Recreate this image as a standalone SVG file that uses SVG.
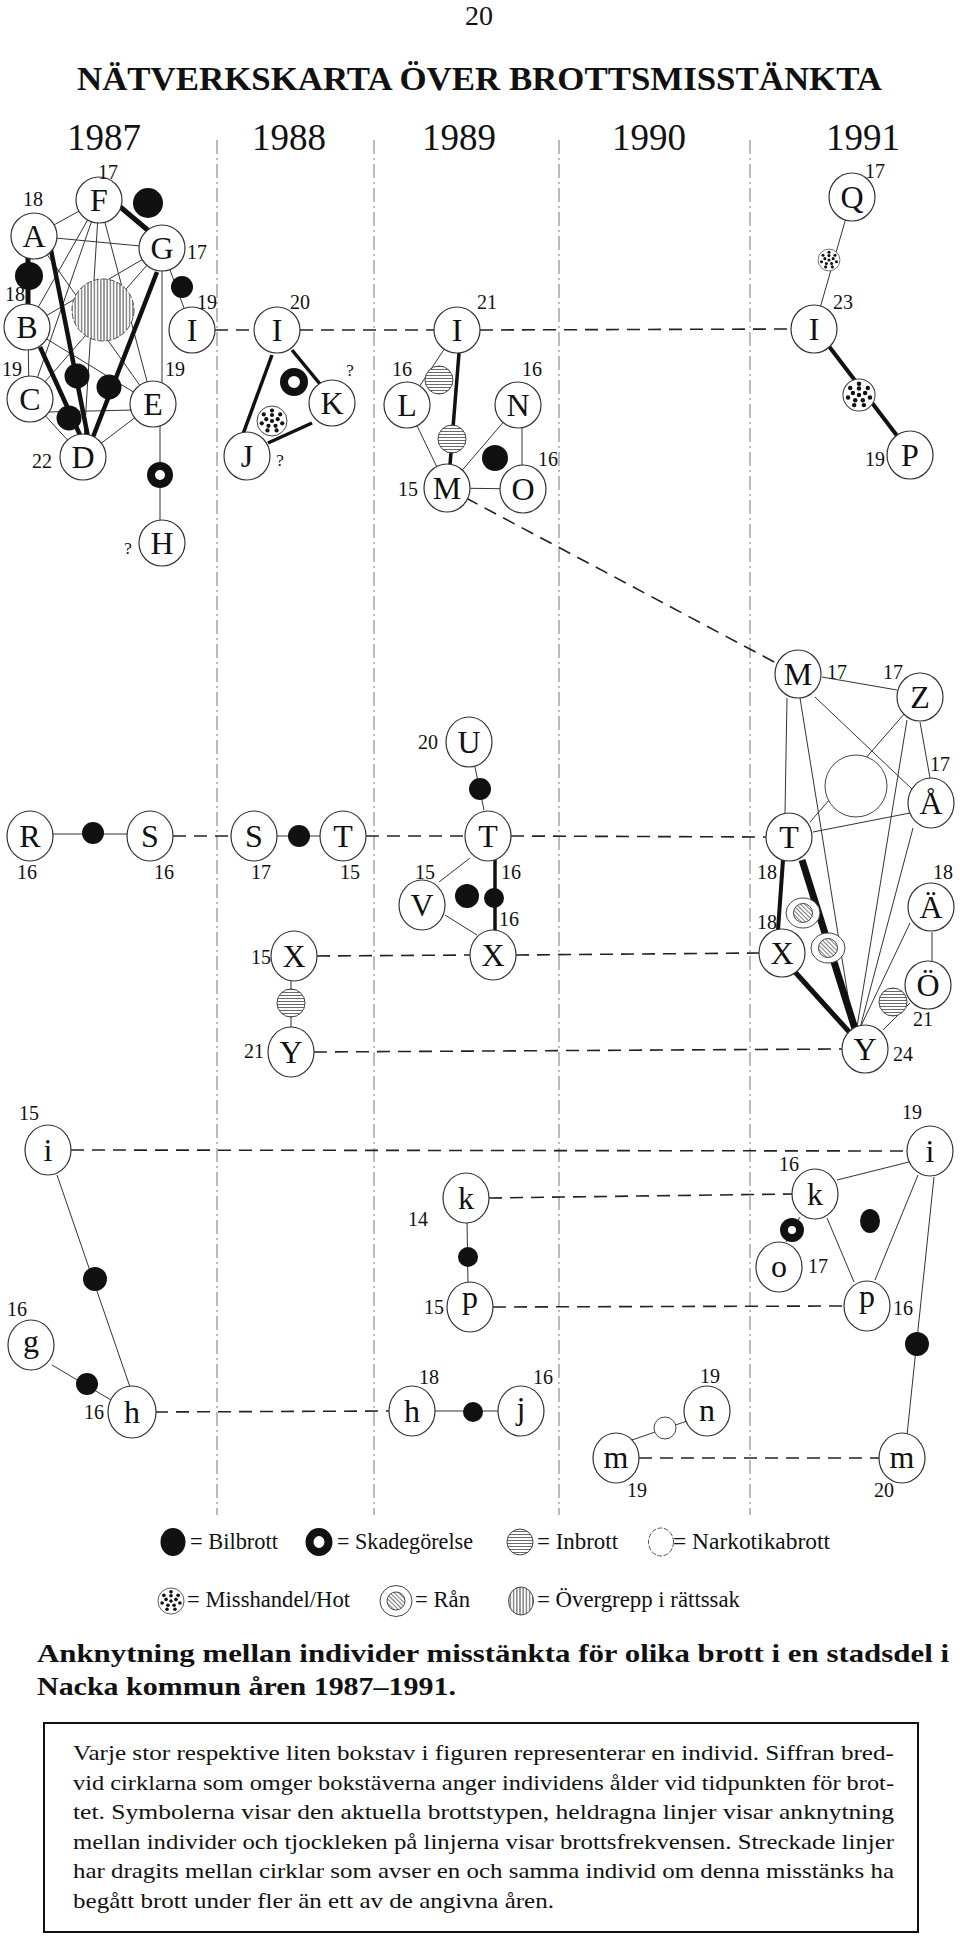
<svg xmlns="http://www.w3.org/2000/svg" xmlns:xlink="http://www.w3.org/1999/xlink" width="960" height="1940" viewBox="0 0 960 1940">
<style>
.t{font-family:"Liberation Serif","Times New Roman",serif;fill:#111}
.node ellipse{fill:#fff;stroke:#333;stroke-width:1.2}
.lbl{font-size:32px;text-anchor:middle}
.age{font-size:20px;text-anchor:middle}
.q{font-size:17px;text-anchor:middle}
.yr{font-size:37px;text-anchor:middle}
.thin{stroke:#333;stroke-width:1;fill:none}
.dash{stroke:#222;stroke-width:1.6;stroke-dasharray:13 8;fill:none}
.div{stroke:#777;stroke-width:1;stroke-dasharray:14 4 2 4;fill:none}
.bil{fill:#111}
.ring{fill:#fff;stroke:#111}
.leg{font-size:23px}
.box{font-size:22px}
</style>
<defs>
<pattern id="ph" width="4" height="3" patternUnits="userSpaceOnUse"><rect width="4" height="3" fill="#fff"/><line x1="0" y1="1.5" x2="4" y2="1.5" stroke="#444" stroke-width="0.8"/></pattern>
<pattern id="pv" width="3.2" height="4" patternUnits="userSpaceOnUse"><rect width="3.2" height="4" fill="#fff"/><line x1="1.6" y1="0" x2="1.6" y2="4" stroke="#333" stroke-width="0.9"/></pattern>
<pattern id="pd" width="3" height="3" patternUnits="userSpaceOnUse" patternTransform="rotate(45)"><rect width="3" height="3" fill="#fff"/><line x1="0" y1="1.5" x2="3" y2="1.5" stroke="#555" stroke-width="0.8"/></pattern>
<g id="miss"><circle r="15" fill="#fff" stroke="#444" stroke-width="1"/><g fill="#111"><circle r="2.1"/><circle cx="0" cy="-6" r="2.1"/><circle cx="5.7" cy="-1.85" r="2.1"/><circle cx="3.53" cy="4.85" r="2.1"/><circle cx="-3.53" cy="4.85" r="2.1"/><circle cx="-5.7" cy="-1.85" r="2.1"/><circle cx="0" cy="-10.5" r="2.1"/><circle cx="8.21" cy="-6.55" r="2.1"/><circle cx="10.24" cy="2.34" r="2.1"/><circle cx="4.56" cy="9.46" r="2.1"/><circle cx="-4.56" cy="9.46" r="2.1"/><circle cx="-10.24" cy="2.34" r="2.1"/><circle cx="-8.21" cy="-6.55" r="2.1"/></g></g>
<g id="ran"><ellipse rx="17" ry="15" fill="#fff" stroke="#444" stroke-width="1"/><circle r="9.5" fill="url(#pd)" stroke="#444" stroke-width="1"/></g>
<g id="inb"><circle r="14" fill="url(#ph)" stroke="#444" stroke-width="1"/></g>
</defs>
<rect width="960" height="1940" fill="#fff"/>

<g id="header" class="t">
<text x="479" y="25" font-size="28" text-anchor="middle">20</text>
<text x="77" y="90" font-size="34" font-weight="bold" textLength="805" lengthAdjust="spacingAndGlyphs">NÄTVERKSKARTA ÖVER BROTTSMISSTÄNKTA</text>
<text class="yr" x="104" y="150">1987</text>
<text class="yr" x="289" y="150">1988</text>
<text class="yr" x="459" y="150">1989</text>
<text class="yr" x="649" y="150">1990</text>
<text class="yr" x="863" y="150">1991</text>
</g>

<g id="dividers">
<line class="div" x1="217" y1="140" x2="217" y2="1515"/>
<line class="div" x1="374" y1="140" x2="374" y2="1515"/>
<line class="div" x1="559" y1="140" x2="559" y2="1515"/>
<line class="div" x1="750" y1="140" x2="750" y2="1515"/>
</g>

<g id="connectors">
<g class="thin">
<line x1="34" y1="236" x2="99" y2="200"/>
<line x1="34" y1="236" x2="162" y2="248"/>
<line x1="99" y1="200" x2="27" y2="327"/>
<line x1="99" y1="200" x2="30" y2="399"/>
<line x1="99" y1="200" x2="83" y2="457"/>
<line x1="99" y1="200" x2="153" y2="404"/>
<line x1="34" y1="236" x2="153" y2="404"/>
<line x1="162" y1="248" x2="27" y2="327"/>
<line x1="162" y1="248" x2="30" y2="399"/>
<line x1="27" y1="327" x2="153" y2="404"/>
<line x1="28" y1="327" x2="29" y2="399"/>
<line x1="30" y1="399" x2="83" y2="457"/>
<line x1="48" y1="412" x2="134" y2="410"/>
<line x1="83" y1="457" x2="153" y2="404"/>
<line x1="162" y1="268" x2="162" y2="386"/>
<line x1="162" y1="248" x2="192" y2="330"/>
<line x1="160" y1="420" x2="160" y2="525"/>
<line x1="457" y1="330" x2="407" y2="405"/>
<line x1="407" y1="405" x2="447" y2="488"/>
<line x1="518" y1="405" x2="447" y2="488"/>
<line x1="522" y1="405" x2="522" y2="489"/>
<line x1="447" y1="488" x2="523" y2="489"/>
<line x1="852" y1="197" x2="814" y2="329"/>
<line x1="822" y1="677" x2="897" y2="690"/>
<line x1="787" y1="698" x2="785" y2="813"/>
<line x1="815" y1="697" x2="913" y2="790"/>
<line x1="800" y1="698" x2="853" y2="1027"/>
<line x1="905" y1="713" x2="810" y2="822"/>
<line x1="907" y1="720" x2="857" y2="1027"/>
<line x1="920" y1="722" x2="930" y2="778"/>
<line x1="813" y1="832" x2="910" y2="813"/>
<line x1="913" y1="828" x2="860" y2="1028"/>
<line x1="910" y1="923" x2="860" y2="1028"/>
<line x1="932" y1="932" x2="932" y2="962"/>
<line x1="910" y1="1003" x2="883" y2="1030"/>
<line x1="30" y1="834" x2="150" y2="834"/>
<line x1="254" y1="836" x2="343" y2="836"/>
<line x1="475" y1="767" x2="484" y2="810"/>
<line x1="470" y1="858" x2="439" y2="882"/>
<line x1="445" y1="915" x2="477" y2="935"/>
<line x1="291" y1="978" x2="291" y2="1030"/>
<line x1="57" y1="1175" x2="130" y2="1387"/>
<line x1="52" y1="1365" x2="111" y2="1400"/>
<line x1="412" y1="1411" x2="521" y2="1411"/>
<line x1="467" y1="1220" x2="468" y2="1285"/>
<line x1="837" y1="1180" x2="909" y2="1162"/>
<line x1="827" y1="1218" x2="854" y2="1282"/>
<line x1="875" y1="1280" x2="918" y2="1175"/>
<line x1="934" y1="1177" x2="907" y2="1435"/>
<line x1="800" y1="1217" x2="786" y2="1242"/>
<line x1="632" y1="1440" x2="690" y2="1420"/>
</g>
<g stroke="#111" fill="none">
<line x1="28" y1="240" x2="28" y2="320" stroke-width="5"/>
<line x1="112" y1="200" x2="150" y2="232" stroke-width="5"/>
<line x1="50" y1="245" x2="88" y2="437" stroke-width="4.5"/>
<line x1="157" y1="272" x2="93" y2="437" stroke-width="4.5"/>
<line x1="40" y1="347" x2="80" y2="435" stroke-width="4.5"/>
<line x1="272" y1="355" x2="243" y2="434" stroke-width="3.5"/>
<line x1="292" y1="350" x2="320" y2="384" stroke-width="3.5"/>
<line x1="268" y1="443" x2="312" y2="423" stroke-width="3.5"/>
<line x1="459" y1="353" x2="450" y2="465" stroke-width="3.5"/>
<line x1="828" y1="345" x2="898" y2="437" stroke-width="4"/>
<line x1="783" y1="860" x2="778" y2="930" stroke-width="4"/>
<line x1="802" y1="860" x2="856" y2="1032" stroke-width="7"/>
<line x1="795" y1="972" x2="852" y2="1035" stroke-width="5"/>
<line x1="495" y1="860" x2="495" y2="932" stroke-width="3.5"/>
</g>
<g class="dash">
<line x1="215" y1="330" x2="254" y2="330"/>
<line x1="300" y1="330" x2="434" y2="330"/>
<line x1="480" y1="330" x2="791" y2="329"/>
<line x1="466" y1="498" x2="778" y2="664"/>
<line x1="173" y1="836" x2="231" y2="836"/>
<line x1="366" y1="836" x2="465" y2="836"/>
<line x1="511" y1="836" x2="766" y2="837"/>
<line x1="317" y1="956" x2="470" y2="955"/>
<line x1="516" y1="955" x2="759" y2="953"/>
<line x1="314" y1="1052" x2="842" y2="1049"/>
<line x1="71" y1="1150" x2="907" y2="1151"/>
<line x1="489" y1="1198" x2="792" y2="1194"/>
<line x1="493" y1="1307" x2="844" y2="1306"/>
<line x1="155" y1="1412" x2="389" y2="1411"/>
<line x1="639" y1="1458" x2="879" y2="1458"/>
</g>
</g>

<g id="symbols">
<circle cx="103" cy="310" r="31" fill="url(#pv)" stroke="#555" stroke-width="1" stroke-dasharray="6 2"/>
<circle class="bil" cx="148" cy="203" r="15"/>
<ellipse class="bil" cx="29" cy="276" rx="14" ry="14"/>
<circle class="bil" cx="182" cy="287" r="11"/>
<circle class="bil" cx="77" cy="376" r="12.5"/>
<circle class="bil" cx="109" cy="387" r="12.5"/>
<circle class="bil" cx="69" cy="418" r="12.5"/>
<circle class="ring" cx="160" cy="475" r="9" stroke-width="8"/>
<circle class="ring" cx="294" cy="382" r="10" stroke-width="8"/>
<use href="#miss" transform="translate(272,421)"/>
<use href="#inb" transform="translate(439,380)"/>
<use href="#inb" transform="translate(452,439)"/>
<circle class="bil" cx="495" cy="458" r="13"/>
<use href="#miss" transform="translate(829,260) scale(0.73)"/>
<use href="#miss" transform="translate(859,395) scale(1.07)"/>
<circle cx="856" cy="786" r="31" fill="#fff" stroke="#444" stroke-width="1"/>
<use href="#ran" transform="translate(803,913)"/>
<use href="#ran" transform="translate(828,948)"/>
<use href="#inb" transform="translate(893,1002)"/>
<circle class="bil" cx="93" cy="833" r="11"/>
<circle class="bil" cx="299" cy="836" r="11"/>
<circle class="bil" cx="480" cy="789" r="11"/>
<circle class="bil" cx="467" cy="896" r="12"/>
<circle class="bil" cx="494" cy="898" r="10"/>
<use href="#inb" transform="translate(291,1003)"/>
<circle class="bil" cx="95" cy="1279" r="12"/>
<circle class="bil" cx="87" cy="1384" r="11"/>
<circle class="bil" cx="473" cy="1412" r="10"/>
<circle class="bil" cx="468" cy="1257" r="10"/>
<ellipse class="bil" cx="870" cy="1221" rx="10" ry="12"/>
<circle class="bil" cx="917" cy="1344" r="12"/>
<circle class="ring" cx="792" cy="1230" r="8" stroke-width="8"/>
<circle cx="665" cy="1428" r="11" fill="#fff" stroke="#444" stroke-width="1"/>
</g>

<g id="nodes" class="t">
<g id="n-A" class="node"><ellipse cx="34" cy="236" rx="23" ry="23"/><text class="lbl" x="34" y="247">A</text><text class="age" x="33" y="206">18</text></g>
<g id="n-F" class="node"><ellipse cx="99" cy="200" rx="23" ry="23"/><text class="lbl" x="99" y="211">F</text><text class="age" x="108" y="179">17</text></g>
<g id="n-G" class="node"><ellipse cx="162" cy="248" rx="23" ry="23"/><text class="lbl" x="162" y="259">G</text><text class="age" x="197" y="259">17</text></g>
<g id="n-B" class="node"><ellipse cx="27" cy="327" rx="23" ry="23"/><text class="lbl" x="27" y="338">B</text><text class="age" x="15" y="301">18</text></g>
<g id="n-I87" class="node"><ellipse cx="192" cy="330" rx="23" ry="23"/><text class="lbl" x="192" y="341">I</text><text class="age" x="207" y="309">19</text></g>
<g id="n-C" class="node"><ellipse cx="30" cy="399" rx="23" ry="23"/><text class="lbl" x="30" y="410">C</text><text class="age" x="12" y="376">19</text></g>
<g id="n-E" class="node"><ellipse cx="153" cy="404" rx="23" ry="23"/><text class="lbl" x="153" y="415">E</text><text class="age" x="175" y="376">19</text></g>
<g id="n-D" class="node"><ellipse cx="83" cy="457" rx="23" ry="23"/><text class="lbl" x="83" y="468">D</text><text class="age" x="42" y="468">22</text></g>
<g id="n-H" class="node"><ellipse cx="162" cy="543" rx="23" ry="23"/><text class="lbl" x="162" y="554">H</text><text class="q" x="128" y="554">?</text></g>

<g id="n-I88" class="node"><ellipse cx="277" cy="330" rx="23" ry="23"/><text class="lbl" x="277" y="341">I</text><text class="age" x="300" y="309">20</text></g>
<g id="n-K" class="node"><ellipse cx="332" cy="403" rx="23" ry="23"/><text class="lbl" x="332" y="414">K</text><text class="q" x="350" y="376">?</text></g>
<g id="n-J" class="node"><ellipse cx="247" cy="456" rx="23" ry="24"/><text class="lbl" x="247" y="467">J</text><text class="q" x="280" y="466">?</text></g>

<g id="n-I89" class="node"><ellipse cx="457" cy="330" rx="23" ry="23"/><text class="lbl" x="457" y="341">I</text><text class="age" x="487" y="309">21</text></g>
<g id="n-L" class="node"><ellipse cx="407" cy="405" rx="23" ry="23"/><text class="lbl" x="407" y="416">L</text><text class="age" x="402" y="376">16</text></g>
<g id="n-N" class="node"><ellipse cx="518" cy="405" rx="23" ry="23"/><text class="lbl" x="518" y="416">N</text><text class="age" x="532" y="376">16</text></g>
<g id="n-M89" class="node"><ellipse cx="447" cy="488" rx="23" ry="24"/><text class="lbl" x="447" y="499">M</text><text class="age" x="408" y="496">15</text></g>
<g id="n-O" class="node"><ellipse cx="523" cy="489" rx="23" ry="24"/><text class="lbl" x="523" y="500">O</text><text class="age" x="548" y="466">16</text></g>

<g id="n-Q" class="node"><ellipse cx="852" cy="197" rx="23" ry="24"/><text class="lbl" x="852" y="208">Q</text><text class="age" x="875" y="178">17</text></g>
<g id="n-I91" class="node"><ellipse cx="814" cy="329" rx="23" ry="24"/><text class="lbl" x="814" y="340">I</text><text class="age" x="843" y="309">23</text></g>
<g id="n-P" class="node"><ellipse cx="910" cy="455" rx="23" ry="24"/><text class="lbl" x="910" y="466">P</text><text class="age" x="875" y="466">19</text></g>

<g id="n-M91" class="node"><ellipse cx="798" cy="674" rx="23" ry="24"/><text class="lbl" x="798" y="685">M</text><text class="age" x="837" y="679">17</text></g>
<g id="n-Z" class="node"><ellipse cx="920" cy="697" rx="23" ry="24"/><text class="lbl" x="920" y="708">Z</text><text class="age" x="893" y="679">17</text></g>
<g id="n-AA" class="node"><ellipse cx="931" cy="803" rx="23" ry="25"/><text class="lbl" x="931" y="814">Å</text><text class="age" x="940" y="771">17</text></g>
<g id="n-T91" class="node"><ellipse cx="789" cy="837" rx="23" ry="24"/><text class="lbl" x="789" y="848">T</text><text class="age" x="767" y="879">18</text></g>
<g id="n-AE" class="node"><ellipse cx="931" cy="907" rx="23" ry="24"/><text class="lbl" x="931" y="918">Ä</text><text class="age" x="943" y="879">18</text></g>
<g id="n-X91" class="node"><ellipse cx="782" cy="953" rx="23" ry="24"/><text class="lbl" x="782" y="964">X</text><text class="age" x="767" y="929">18</text></g>
<g id="n-OE" class="node"><ellipse cx="928" cy="985" rx="23" ry="24"/><text class="lbl" x="928" y="996">Ö</text><text class="age" x="923" y="1026">21</text></g>
<g id="n-Y91" class="node"><ellipse cx="865" cy="1049" rx="23" ry="24"/><text class="lbl" x="865" y="1060">Y</text><text class="age" x="903" y="1061">24</text></g>

<g id="n-R" class="node"><ellipse cx="30" cy="836" rx="23" ry="25"/><text class="lbl" x="30" y="847">R</text><text class="age" x="27" y="879">16</text></g>
<g id="n-S87" class="node"><ellipse cx="150" cy="836" rx="23" ry="25"/><text class="lbl" x="150" y="847">S</text><text class="age" x="164" y="879">16</text></g>
<g id="n-S88" class="node"><ellipse cx="254" cy="836" rx="23" ry="25"/><text class="lbl" x="254" y="847">S</text><text class="age" x="261" y="879">17</text></g>
<g id="n-T88" class="node"><ellipse cx="343" cy="836" rx="23" ry="25"/><text class="lbl" x="343" y="847">T</text><text class="age" x="350" y="879">15</text></g>
<g id="n-U" class="node"><ellipse cx="469" cy="742" rx="23" ry="25"/><text class="lbl" x="469" y="753">U</text><text class="age" x="428" y="749">20</text></g>
<g id="n-T89" class="node"><ellipse cx="488" cy="836" rx="23" ry="25"/><text class="lbl" x="488" y="847">T</text><text class="age" x="511" y="879">16</text></g>
<g id="n-V" class="node"><ellipse cx="422" cy="905" rx="23" ry="25"/><text class="lbl" x="422" y="916">V</text><text class="age" x="425" y="879">15</text></g>
<g id="n-X89" class="node"><ellipse cx="493" cy="955" rx="23" ry="25"/><text class="lbl" x="493" y="966">X</text><text class="age" x="509" y="926">16</text></g>
<g id="n-X88" class="node"><ellipse cx="294" cy="956" rx="23" ry="25"/><text class="lbl" x="294" y="967">X</text><text class="age" x="261" y="964">15</text></g>
<g id="n-Y88" class="node"><ellipse cx="291" cy="1052" rx="23" ry="25"/><text class="lbl" x="291" y="1063">Y</text><text class="age" x="254" y="1058">21</text></g>

<g id="n-i87" class="node"><ellipse cx="48" cy="1150" rx="23" ry="25"/><text class="lbl" x="48" y="1161">i</text><text class="age" x="29" y="1120">15</text></g>
<g id="n-g" class="node"><ellipse cx="31" cy="1345" rx="23" ry="25"/><text class="lbl" x="31" y="1352">g</text><text class="age" x="17" y="1316">16</text></g>
<g id="n-h87" class="node"><ellipse cx="132" cy="1412" rx="24" ry="26"/><text class="lbl" x="132" y="1423">h</text><text class="age" x="94" y="1419">16</text></g>
<g id="n-h89" class="node"><ellipse cx="412" cy="1411" rx="23" ry="25"/><text class="lbl" x="412" y="1422">h</text><text class="age" x="429" y="1384">18</text></g>
<g id="n-j" class="node"><ellipse cx="521" cy="1411" rx="23" ry="25"/><text class="lbl" x="521" y="1419">j</text><text class="age" x="543" y="1384">16</text></g>
<g id="n-k89" class="node"><ellipse cx="466" cy="1198" rx="23" ry="25"/><text class="lbl" x="466" y="1209">k</text><text class="age" x="418" y="1226">14</text></g>
<g id="n-p89" class="node"><ellipse cx="470" cy="1307" rx="23" ry="25"/><text class="lbl" x="470" y="1308">p</text><text class="age" x="434" y="1314">15</text></g>
<g id="n-i91" class="node"><ellipse cx="930" cy="1151" rx="23" ry="25"/><text class="lbl" x="930" y="1162">i</text><text class="age" x="912" y="1119">19</text></g>
<g id="n-k91" class="node"><ellipse cx="815" cy="1194" rx="23" ry="25"/><text class="lbl" x="815" y="1205">k</text><text class="age" x="789" y="1171">16</text></g>
<g id="n-o" class="node"><ellipse cx="779" cy="1267" rx="23" ry="25"/><text class="lbl" x="779" y="1277">o</text><text class="age" x="818" y="1273">17</text></g>
<g id="n-p91" class="node"><ellipse cx="867" cy="1306" rx="23" ry="25"/><text class="lbl" x="867" y="1307">p</text><text class="age" x="903" y="1315">16</text></g>
<g id="n-n" class="node"><ellipse cx="707" cy="1411" rx="23" ry="25"/><text class="lbl" x="707" y="1421">n</text><text class="age" x="710" y="1383">19</text></g>
<g id="n-m90" class="node"><ellipse cx="616" cy="1458" rx="23" ry="25"/><text class="lbl" x="616" y="1468">m</text><text class="age" x="637" y="1497">19</text></g>
<g id="n-m91" class="node"><ellipse cx="902" cy="1458" rx="23" ry="25"/><text class="lbl" x="902" y="1468">m</text><text class="age" x="884" y="1497">20</text></g>
</g>

<g id="legend" class="t">
<ellipse class="bil" cx="173" cy="1542" rx="12.5" ry="14"/>
<text class="leg" x="190" y="1549" textLength="88" lengthAdjust="spacingAndGlyphs">= Bilbrott</text>
<ellipse cx="319" cy="1542" rx="9.5" ry="10" fill="#fff" stroke="#111" stroke-width="8"/>
<text class="leg" x="337" y="1549" textLength="136" lengthAdjust="spacingAndGlyphs">= Skadegörelse</text>
<circle cx="520" cy="1542" r="13" fill="url(#ph)" stroke="#444" stroke-width="1"/>
<text class="leg" x="537" y="1549" textLength="81" lengthAdjust="spacingAndGlyphs">= Inbrott</text>
<ellipse cx="661" cy="1542" rx="12.5" ry="14" fill="#fff" stroke="#555" stroke-width="1" stroke-dasharray="5 1.5"/>
<text class="leg" x="673" y="1549" textLength="157" lengthAdjust="spacingAndGlyphs">= Narkotikabrott</text>
<use href="#miss" transform="translate(171,1601) scale(0.87)"/>
<text class="leg" x="187" y="1607" textLength="163" lengthAdjust="spacingAndGlyphs">= Misshandel/Hot</text>
<ellipse cx="396" cy="1601" rx="16" ry="15.5" fill="#fff" stroke="#444" stroke-width="1"/>
<circle cx="396" cy="1601" r="9" fill="url(#pd)" stroke="#444" stroke-width="1"/>
<text class="leg" x="415" y="1607" textLength="55" lengthAdjust="spacingAndGlyphs">= Rån</text>
<ellipse cx="521" cy="1601" rx="12.5" ry="14" fill="url(#pv)" stroke="#444" stroke-width="1"/>
<text class="leg" x="537" y="1607" textLength="203" lengthAdjust="spacingAndGlyphs">= Övergrepp i rättssak</text>
</g>

<g id="caption" class="t">
<text x="37" y="1662" font-size="26" font-weight="bold" textLength="912" lengthAdjust="spacingAndGlyphs">Anknytning mellan individer misstänkta för olika brott i en stadsdel i</text>
<text x="37" y="1695" font-size="26" font-weight="bold" textLength="419" lengthAdjust="spacingAndGlyphs">Nacka kommun åren 1987–1991.</text>
<rect x="44" y="1723" width="874" height="209" fill="none" stroke="#111" stroke-width="2"/>
<text class="box" x="73" y="1760" textLength="821" lengthAdjust="spacingAndGlyphs">Varje stor respektive liten bokstav i figuren representerar en individ. Siffran bred-</text>
<text class="box" x="73" y="1790" textLength="821" lengthAdjust="spacingAndGlyphs">vid cirklarna som omger bokstäverna anger individens ålder vid tidpunkten för brot-</text>
<text class="box" x="73" y="1819" textLength="821" lengthAdjust="spacingAndGlyphs">tet. Symbolerna visar den aktuella brottstypen, heldragna linjer visar anknytning</text>
<text class="box" x="73" y="1849" textLength="821" lengthAdjust="spacingAndGlyphs">mellan individer och tjockleken på linjerna visar brottsfrekvensen. Streckade linjer</text>
<text class="box" x="73" y="1878" textLength="821" lengthAdjust="spacingAndGlyphs">har dragits mellan cirklar som avser en och samma individ om denna misstänks ha</text>
<text class="box" x="73" y="1908" textLength="481" lengthAdjust="spacingAndGlyphs">begått brott under fler än ett av de angivna åren.</text>
</g>
</svg>
